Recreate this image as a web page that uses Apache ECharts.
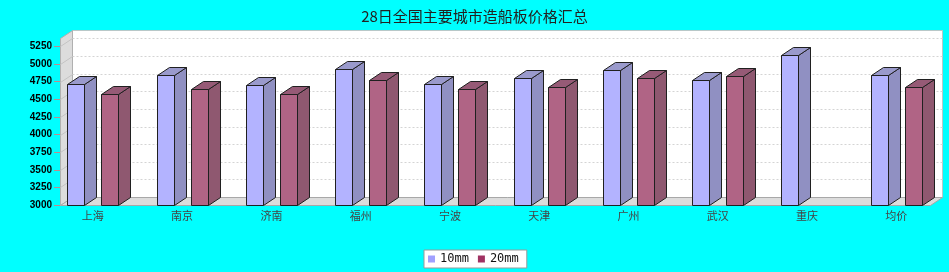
<!DOCTYPE html>
<html>
<head>
<meta charset="utf-8">
<script src="https://cdn.jsdelivr.net/npm/echarts@6/dist/echarts.min.js"></script>
<style>html,body{margin:0;padding:0;background:#00ffff;}#c{width:949px;height:272px;}</style>
</head>
<body>
<div id="c"></div>
<script>
// ---- data ----
const titleText = '28日全国主要城市造船板价格汇总';
const categories = ['上海', '南京', '济南', '福州', '宁波', '天津', '广州', '武汉', '重庆', '均价'];
const seriesNames = ['10mm', '20mm'];
const values10mm = [4720, 4850, 4700, 4930, 4720, 4800, 4910, 4780, 5130, 4840];
const values20mm = [4580, 4650, 4570, 4780, 4640, 4670, 4800, 4830, null, 4680];
const yTicks = [3000, 3250, 3500, 3750, 4000, 4250, 4500, 4750, 5000, 5250];
const Y_MIN = 3000, Y_MAX = 5370, Y_STEP = 250;

// ---- style / layout ----
const DX = 12, DY = 8;           // 3D depth offset
const FRONT_LEFT = 60, FRONT_RIGHT = 930;
const BAR_W = 17;

const chart = echarts.init(document.getElementById('c'), null, {renderer: 'canvas'});

function toData(arr) {
  const out = [];
  arr.forEach((v, i) => { if (v !== null && v !== undefined) out.push([i, v]); });
  return out;
}

function wallsRender(params, api) {
  const y0 = api.coord([0, Y_MIN])[1];
  const yTop = api.coord([0, Y_MAX])[1];
  const L = FRONT_LEFT + 0.5, R = FRONT_RIGHT + 0.5;
  const yb = Math.round(y0) + 0.5, yt = Math.round(yTop) + 0.5;
  const children = [];
  children.push({type: 'rect', shape: {x: L + DX, y: yt - DY, width: R - L, height: yb - yt},
    style: {fill: '#ffffff', stroke: '#b8c8c8', lineWidth: 1}});
  children.push({type: 'polygon', shape: {points: [[L, yt], [L + DX, yt - DY], [L + DX, yb - DY], [L, yb]]},
    style: {fill: '#dcdcdc', stroke: '#b0b0b0', lineWidth: 1}});
  children.push({type: 'polygon', shape: {points: [[L, yb], [L + DX, yb - DY], [R + DX, yb - DY], [R, yb]]},
    style: {fill: '#dcdcdc', stroke: '#a8a8a8', lineWidth: 1}});
  yTicks.forEach(v => {
    if (v === Y_MIN) return;
    const y = Math.round(api.coord([0, v])[1]) + 0.5;
    children.push({type: 'line', shape: {x1: L + DX, y1: y - DY, x2: R + DX, y2: y - DY},
      style: {stroke: '#d4d4d4', lineWidth: 1, lineDash: [2, 2]}});
    children.push({type: 'line', shape: {x1: L, y1: y, x2: L + DX, y2: y - DY},
      style: {stroke: '#c4c4c4', lineWidth: 1}});
  });
  return {type: 'group', children};
}

function barRenderer(shift, cFront, cSide, cTop) {
  return function (params, api) {
    const i = api.value(0), v = api.value(1);
    const c = api.coord([i, v]);
    const b = api.coord([i, Y_MIN]);
    const x0 = Math.round(c[0] + shift) + 0.5, x1 = x0 + BAR_W;
    const yt = Math.round(c[1]) + 0.5, yb = Math.round(b[1]) + 0.5;
    const st = {stroke: '#202020', lineWidth: 1};
    return {type: 'group', children: [
      {type: 'polygon', shape: {points: [[x1, yt], [x1 + DX, yt - DY], [x1 + DX, yb - DY], [x1, yb]]},
        style: Object.assign({fill: cSide}, st)},
      {type: 'polygon', shape: {points: [[x0, yt], [x0 + DX, yt - DY], [x1 + DX, yt - DY], [x1, yt]]},
        style: Object.assign({fill: cTop}, st)},
      {type: 'rect', shape: {x: x0, y: yt, width: BAR_W, height: yb - yt},
        style: Object.assign({fill: cFront}, st)}
    ]};
  };
}

chart.setOption({
  backgroundColor: '#00ffff',
  animation: false,
  title: {
    text: titleText, left: 'center', top: 4,
    textStyle: {fontSize: 15, fontWeight: 'normal', color: '#222', fontFamily: 'Noto Sans CJK SC'}
  },
  legend: {
    data: seriesNames, left: 424, top: 250,
    itemWidth: 7, itemHeight: 7, itemGap: 9, icon: 'rect',
    backgroundColor: '#ffffff', borderColor: '#999999', borderWidth: 1,
    padding: [3, 8, 3, 4],
    textStyle: {fontSize: 12, color: '#111', fontFamily: 'DejaVu Sans Mono'}
  },
  grid: {left: 48.2, right: 8.1, top: 38, bottom: 67},
  xAxis: {
    type: 'category', data: categories,
    axisLine: {show: false}, axisTick: {show: false}, splitLine: {show: false},
    axisLabel: {margin: 5, fontSize: 11, color: '#444', fontFamily: 'Noto Sans CJK SC'}
  },
  yAxis: {
    type: 'value', min: Y_MIN, max: Y_MAX, interval: Y_STEP, offset: -11.8,
    axisLine: {show: false},
    axisTick: {show: true, length: 6, lineStyle: {color: '#c08a8a'}},
    splitLine: {show: false},
    axisLabel: {margin: 8, fontSize: 10, fontWeight: 'bold', color: '#000', fontFamily: 'Liberation Sans',
      showMaxLabel: false, formatter: v => String(v)}
  },
  series: [
    {type: 'custom', name: '_walls', silent: true, data: [[0, Y_MIN]], renderItem: wallsRender, clip: false, z: 1},
    {type: 'custom', name: seriesNames[0], data: toData(values10mm), clip: false, z: 2,
      itemStyle: {color: '#a0a0ff'},
      renderItem: barRenderer(-25.5, '#b3b3ff', '#9090c2', '#9a9acc')},
    {type: 'custom', name: seriesNames[1], data: toData(values20mm), clip: false, z: 2,
      itemStyle: {color: '#a03262'},
      renderItem: barRenderer(8.5, '#b06485', '#8f5870', '#965a76')}
  ]
});
</script>
</body>
</html>
